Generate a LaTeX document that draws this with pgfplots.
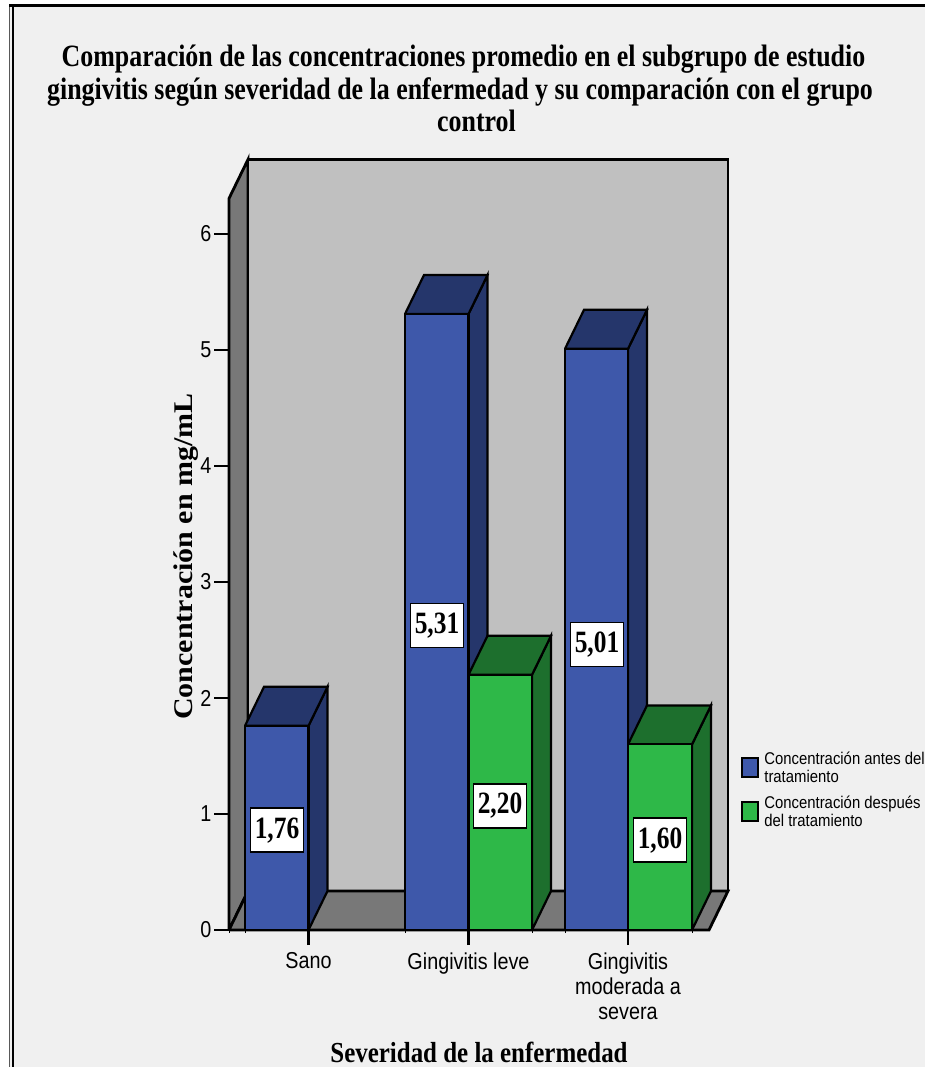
\documentclass[border=0pt]{standalone}
\usepackage{pgfplots}
\usepackage{fontspec}
\pgfplotsset{compat=1.18}
\setmainfont{Liberation Sans}
\newfontfamily\headserif{Liberation Serif}[FakeStretch=0.836]
\newfontfamily\xlabelserif{Liberation Serif}[FakeStretch=0.86]
\newfontfamily\ylabelserif{Liberation Serif}[FakeStretch=1.11]
\newfontfamily\valueserif{Liberation Serif}[FakeStretch=0.82]
\newfontfamily\narrowsans{Liberation Sans}[FakeStretch=0.86]
\newfontfamily\legendsans{Liberation Sans}[FakeStretch=0.875]
\definecolor{panel}{HTML}{F0F0F0}
\definecolor{wallback}{HTML}{C0C0C0}
\definecolor{wallside}{HTML}{787878}
\definecolor{blueface}{HTML}{3E58AA}
\definecolor{bluedark}{HTML}{25366B}
\definecolor{greenface}{HTML}{2EB848}
\definecolor{greendark}{HTML}{1D6F2D}
\newcommand{\valuebox}[3]{%
  \node[fill=white,draw=black,line width=1.6pt,minimum width=53pt,minimum height=44pt,inner sep=0pt,
        font=\valueserif\bfseries\fontsize{31}{33}\selectfont] at (axis cs:#1,#2) {\raisebox{-1.5pt}{#3}};}
\begin{document}
\begin{tikzpicture}[x=1pt,y=1pt]
\path[use as bounding box] (0,0) rectangle (925,1067);
\fill[white] (0,0) rectangle (925,1067);
\fill[panel] (10,-2) rectangle (927,1061);
% double frame on the left and top edges
\draw[line width=1pt,black!65] (9.5,-2) -- (9.5,1061.5);
\draw[line width=2pt,black] (13,-2) -- (13,1061);
\draw[line width=2.6pt,black] (9,1061.2) -- (927,1061.2);
\begin{axis}[
  at={(229pt,137pt)},anchor=south west,
  scale only axis,width=499pt,height=770.5pt,
  xmin=229,xmax=728,ymin=0,ymax=6.642,
  clip=false,
  axis line style={draw=none},
  xtick={308.5,468.5,628},
  xticklabels={Sano,Gingivitis leve,{Gingivitis\\moderada a\\severa}},
  minor xtick={229,245,405,532,565,692},
  ytick={0,1,2,3,4,5,6},
  xtick pos=bottom,ytick pos=left,
  tick align=outside,
  major tick length=15pt,minor tick length=3pt,
  tick style={black,line width=2.2pt},
  minor tick style={black,line width=1pt},
  /pgf/number format/assume math mode=true,
  tick label style={font=\narrowsans\fontsize{23}{25}\selectfont},
  xticklabel style={align=center,anchor=north,yshift=-4pt},
  yticklabel style={anchor=east,xshift=1pt},
  title={\hspace*{7pt}Comparación de las concentraciones promedio en el subgrupo de estudio\\gingivitis según severidad de la enfermedad y su comparación con el grupo\\\hspace*{33pt}control},
  title style={at={(0.4629,1.0843)},anchor=center,align=center,
    font=\headserif\bfseries\fontsize{31}{32.5}\selectfont},
  xlabel={Severidad de la enfermedad},
  xlabel style={at={(0.501,-0.159)},anchor=center,
    font=\xlabelserif\bfseries\fontsize{29}{31}\selectfont},
  ylabel={Concentración en mg/mL},
  ylabel style={at={(-0.0862,0.4847)},anchor=center,rotate=0,
    font=\ylabelserif\bfseries\fontsize{27}{29}\selectfont},
  legend cell align=left,
  legend style={at={(1.026,0.2316)},anchor=north west,draw=none,fill=none,inner sep=0pt,
    nodes={align=left,inner sep=0pt,font=\legendsans\fontsize{17}{18}\selectfont},
    row sep=12pt,column sep=5pt},
]
% side wall, back wall and floor
\addplot[forget plot,fill=wallside,draw=black,line width=2.8pt] coordinates {(229,0) (248,0.336) (248,6.642) (229,6.306) (229,0)};
\addplot[forget plot,fill=wallback,draw=black,line width=2.8pt] coordinates {(248,0.336) (728,0.336) (728,6.642) (248,6.642) (248,0.336)};
\addplot[forget plot,fill=wallside,draw=black,line width=2.8pt] coordinates {(229,0) (709,0) (728,0.336) (248,0.336) (229,0)};
% tops and right sides of the "before" bars
\addplot[forget plot,fill=bluedark,draw=black,line width=2.2pt] coordinates {(308.5,0) (327.5,0.336) (327.5,2.096) (308.5,1.76) (308.5,0)};
\addplot[forget plot,fill=bluedark,draw=black,line width=2.2pt] coordinates {(245,1.76) (308.5,1.76) (327.5,2.096) (264,2.096) (245,1.76)};
\addplot[forget plot,fill=bluedark,draw=black,line width=2.2pt] coordinates {(468.5,0) (487.5,0.336) (487.5,5.646) (468.5,5.31) (468.5,0)};
\addplot[forget plot,fill=bluedark,draw=black,line width=2.2pt] coordinates {(405,5.31) (468.5,5.31) (487.5,5.646) (424,5.646) (405,5.31)};
\addplot[forget plot,fill=bluedark,draw=black,line width=2.2pt] coordinates {(628,0) (647,0.336) (647,5.346) (628,5.01) (628,0)};
\addplot[forget plot,fill=bluedark,draw=black,line width=2.2pt] coordinates {(565,5.01) (628,5.01) (647,5.346) (584,5.346) (565,5.01)};
% front faces, "before" treatment
\addplot[ybar,bar shift=0pt,bar width=63.5,fill=blueface,draw=black,line width=2.2pt,
  legend image code/.code={\draw[fill=blueface,draw=black,line width=2.2pt] (0pt,-9.5pt) rectangle (16pt,9.5pt);}]
  coordinates {(276.75,1.76) (436.75,5.31) (596.5,5.01)};
\addlegendentry{Concentración antes del\\tratamiento}
% tops and right sides of the "after" bars
\addplot[forget plot,fill=greendark,draw=black,line width=2.2pt] coordinates {(532,0) (551,0.336) (551,2.536) (532,2.2) (532,0)};
\addplot[forget plot,fill=greendark,draw=black,line width=2.2pt] coordinates {(468.5,2.2) (532,2.2) (551,2.536) (487.5,2.536) (468.5,2.2)};
\addplot[forget plot,fill=greendark,draw=black,line width=2.2pt] coordinates {(692,0) (711,0.336) (711,1.936) (692,1.6) (692,0)};
\addplot[forget plot,fill=greendark,draw=black,line width=2.2pt] coordinates {(628,1.6) (692,1.6) (711,1.936) (647,1.936) (628,1.6)};
% front faces, "after" treatment
\addplot[ybar,bar shift=0pt,bar width=63.5,fill=greenface,draw=black,line width=2.2pt,
  legend image code/.code={\draw[fill=greenface,draw=black,line width=2.2pt] (0pt,-9.5pt) rectangle (16pt,9.5pt);}]
  coordinates {(500.25,2.2) (660,1.6)};
\addlegendentry{Concentración después\\del tratamiento}
% heavy base line in front of the bars
\addplot[forget plot,draw=black,line width=2.8pt] coordinates {(229,0) (709,0)};
% value labels
\valuebox{277}{0.86}{1,76}
\valuebox{437}{2.625}{5,31}
\valuebox{500}{1.07}{2,20}
\valuebox{597}{2.46}{5,01}
\valuebox{660}{0.775}{1,60}
\end{axis}
\end{tikzpicture}
\end{document}
